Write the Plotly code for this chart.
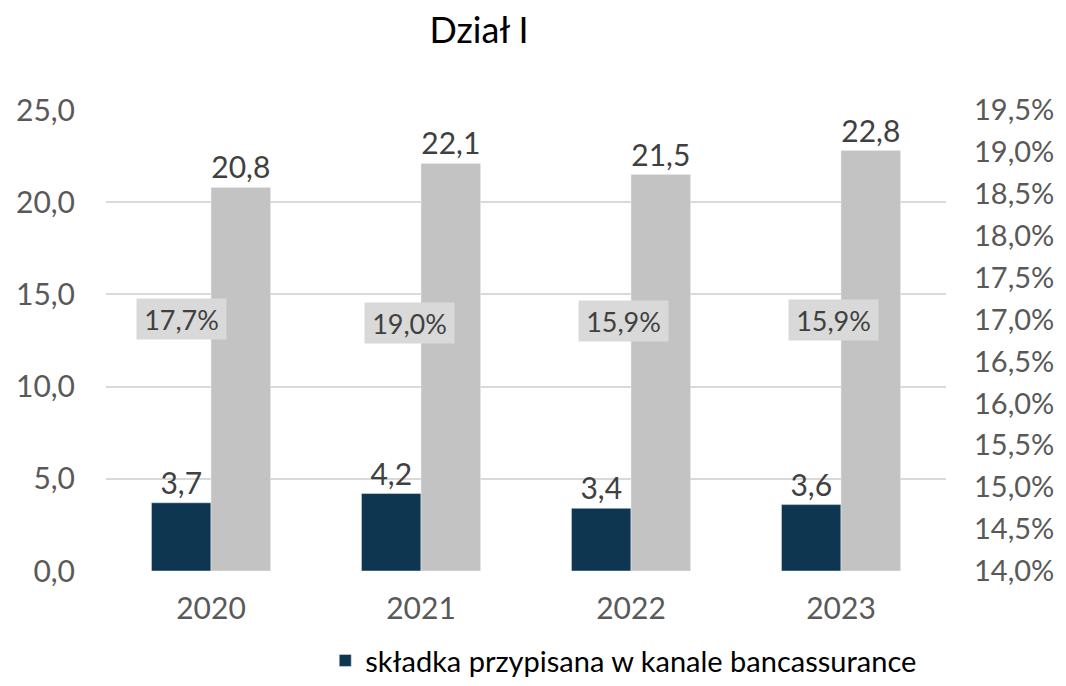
import plotly.graph_objects as go

years = ["2020", "2021", "2022", "2023"]
bancassurance = [3.7, 4.2, 3.4, 3.6]
total = [20.8, 22.1, 21.5, 22.8]
share = [0.177, 0.190, 0.159, 0.159]

FONT = "Lato"
TXT = "#595959"

fig = go.Figure()
fig.add_trace(go.Bar(
    x=years, y=bancassurance, name="składka przypisana w kanale bancassurance",
    marker=dict(color="#0e3650"), texttemplate="%{y:.1f}", textposition="outside",
    textfont=dict(size=30, color="#404040", family=FONT), cliponaxis=False,
))
fig.add_trace(go.Bar(
    x=years, y=total, name="składka przypisana ogółem",
    marker=dict(color="#c3c3c3"), texttemplate="%{y:.1f}", textposition="outside",
    textfont=dict(size=30, color="#404040", family=FONT), cliponaxis=False,
    showlegend=False,
))
# invisible trace to activate secondary axis
fig.add_trace(go.Scatter(x=years, y=share, yaxis="y2", mode="markers",
                         marker=dict(opacity=0), showlegend=False, hoverinfo="skip"))

label_level = 0.170
xshifts = [-30, -12, -8, -8]
yshifts = [1, -3, -1, 0]
for i, (s, dx, dy) in enumerate(zip(share, xshifts, yshifts)):
    fig.add_annotation(
        x=i, xref="x", y=label_level, yref="y2", xshift=dx, yshift=dy,
        text=f"{s*100:.1f}%".replace(".", ","), showarrow=False,
        bgcolor="#d9d9d9", borderpad=2, width=85, height=36,
        font=dict(size=27, color="#404040", family=FONT),
    )

fig.update_layout(
    width=1050, height=670,
    paper_bgcolor="white", plot_bgcolor="white",
    separators=",.",
    margin=dict(l=98, r=112, t=102, b=107, autoexpand=False),
    title=dict(text="Dział I", x=0.4486, xanchor="center", y=0.967, yanchor="middle",
               font=dict(size=36, color="#000000", family=FONT)),
    barmode="group", bargap=0.433, bargroupgap=0,
    font=dict(family=FONT, color=TXT),
    xaxis=dict(type="category", range=[-0.5, 3.5], autorange=False, automargin=False,
               tickfont=dict(size=30, color=TXT), showgrid=False,
               showline=False, ticks="", ticklabelstandoff=17),
    yaxis=dict(range=[0, 25], tick0=0, dtick=5, tickformat=".1f", automargin=False,
               tickfont=dict(size=30, color=TXT), showgrid=True,
               gridcolor="#d9d9d9", gridwidth=1.5, zeroline=False,
               ticklabelstandoff=30),
    yaxis2=dict(range=[0.14, 0.195], tick0=0.14, dtick=0.005, tickformat=".1%",
                overlaying="y", side="right", showgrid=False, zeroline=False,
                automargin=False,
                tickfont=dict(size=29, color=TXT), ticklabelstandoff=27),
    legend=dict(orientation="h", x=0.261, xanchor="left", yref="container",
                y=0.026, yanchor="middle",
                font=dict(size=29, color="#000000", family=FONT)),
    hovermode=False,
)

fig.write_html("out.html")
